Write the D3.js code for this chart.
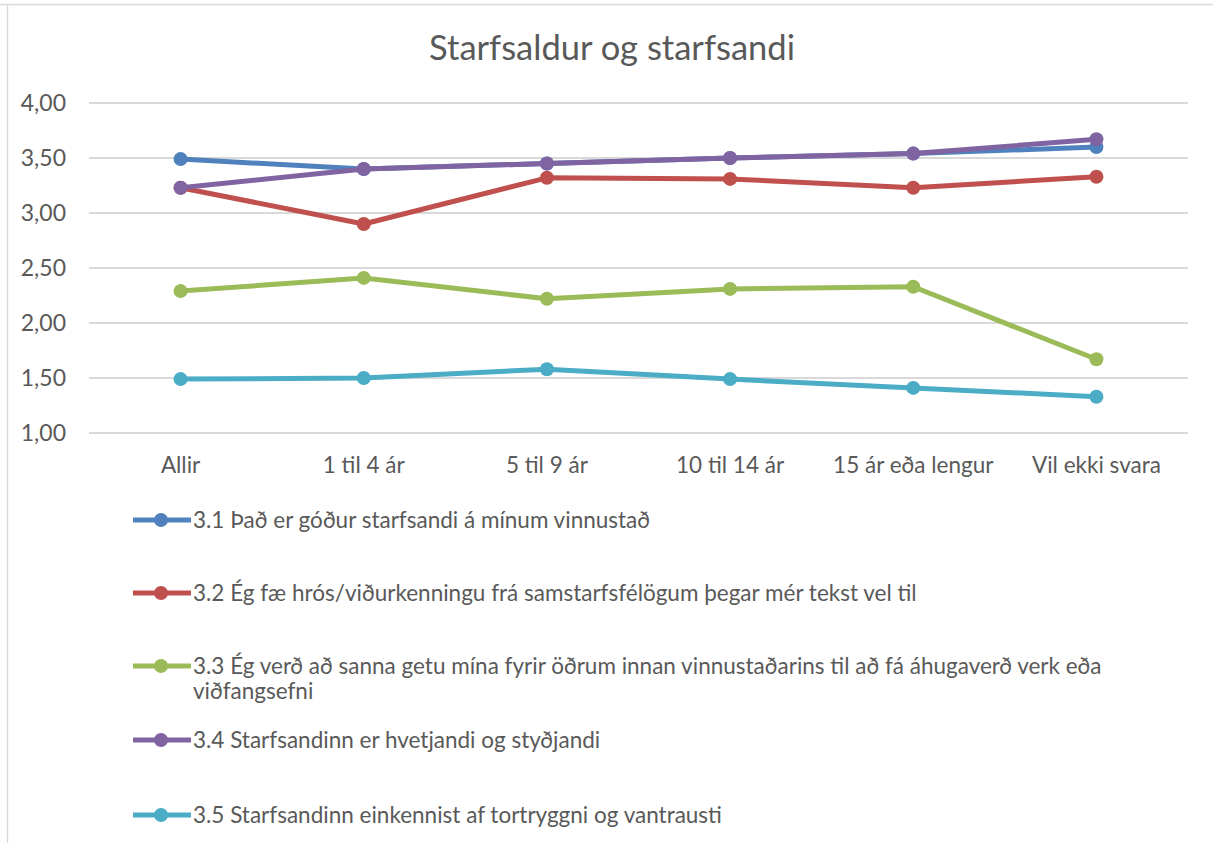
<!DOCTYPE html>
<html>
<head>
<meta charset="utf-8">
<script src="https://cdn.jsdelivr.net/npm/d3@7"></script>
<style>
  body { margin: 0; background: #fff; }
  svg text { font-family: Lato, "Open Sans", sans-serif; fill: #595959; }
</style>
</head>
<body>
<main></main>
<script>
var categories = ['Allir', '1 til 4 ár', '5 til 9 ár', '10 til 14 ár', '15 ár eða lengur', 'Vil ekki svara']
var seriesNames = [
    '3.1 Það er góður starfsandi á mínum vinnustað',
    '3.2 Ég fæ hrós/viðurkenningu frá samstarfsfélögum þegar mér tekst vel til',
    '3.3 Ég verð að sanna getu mína fyrir öðrum innan vinnustaðarins til að fá áhugaverð verk eða|viðfangsefni',
    '3.4 Starfsandinn er hvetjandi og styðjandi',
    '3.5 Starfsandinn einkennist af tortryggni og vantrausti'
]
var s31 = [3.49, 3.40, 3.45, 3.50, 3.54, 3.60]
var s32 = [3.23, 2.90, 3.32, 3.31, 3.23, 3.33]
var s33 = [2.29, 2.41, 2.22, 2.31, 2.33, 1.67]
var s34 = [3.23, 3.40, 3.45, 3.50, 3.54, 3.67]
var s35 = [1.49, 1.50, 1.58, 1.49, 1.41, 1.33]
var yTicks = [1, 1.5, 2, 2.5, 3, 3.5, 4]
var colors = ['#4F81BD', '#C0504D', '#9BBB59', '#8064A2', '#4BACC6']

var allSeries = [s31, s32, s33, s34, s35]

var width = 1213, height = 843

var svg = d3.select('main').append('svg')
    .attr('width', width)
    .attr('height', height)

// frame edges
svg.append('line').attr('x1', 0).attr('x2', width).attr('y1', 4.5).attr('y2', 4.5)
    .attr('stroke', '#d9d9d9').attr('stroke-width', 1.5)
svg.append('line').attr('x1', 7.5).attr('x2', 7.5).attr('y1', 4).attr('y2', height)
    .attr('stroke', '#d9d9d9').attr('stroke-width', 1.5)

svg.append('text')
    .attr('x', 612).attr('y', 60)
    .attr('text-anchor', 'middle')
    .style('font-size', '34.5px')
    .text('Starfsaldur og starfsandi')

var x = d3.scaleBand().domain(categories).range([89, 1188])
var y = d3.scaleLinear().domain([1, 4]).range([433, 103])

// gridlines
svg.append('g').selectAll('line')
    .data(yTicks)
    .enter()
    .append('line')
    .attr('x1', 89).attr('x2', 1188)
    .attr('y1', d => y(d)).attr('y2', d => y(d))
    .attr('stroke', '#d9d9d9').attr('stroke-width', 1.8)

// y labels
var fmt = d => d.toFixed(2).replace('.', ',')
svg.append('g').selectAll('text')
    .data(yTicks)
    .enter()
    .append('text')
    .attr('x', 66).attr('y', d => y(d) + 8)
    .attr('text-anchor', 'end')
    .style('font-size', '23px')
    .text(fmt)

// x labels
svg.append('g').selectAll('text')
    .data(categories)
    .enter()
    .append('text')
    .attr('x', d => x(d) + x.bandwidth() / 2)
    .attr('y', 473)
    .attr('text-anchor', 'middle')
    .style('font-size', '22.5px')
    .text(d => d)

var line = d3.line()
    .x((d, i) => x(categories[i]) + x.bandwidth() / 2)
    .y(d => y(d))

var g = svg.append('g')
allSeries.forEach((s, k) => {
    g.append('path')
        .datum(s)
        .attr('d', line)
        .attr('fill', 'none')
        .attr('stroke', colors[k])
        .attr('stroke-width', 5)
        .attr('stroke-linejoin', 'round')
    g.selectAll('.pt' + k)
        .data(s)
        .enter()
        .append('circle')
        .attr('class', 'pt' + k)
        .attr('cx', (d, i) => x(categories[i]) + x.bandwidth() / 2)
        .attr('cy', d => y(d))
        .attr('r', 7)
        .attr('fill', colors[k])
})

// legend
var legendY = [520, 593, 666, 740, 815]
seriesNames.forEach((name, k) => {
    var ly = legendY[k]
    svg.append('line')
        .attr('x1', 133).attr('x2', 191)
        .attr('y1', ly).attr('y2', ly)
        .attr('stroke', colors[k]).attr('stroke-width', 5)
    svg.append('circle')
        .attr('cx', 161).attr('cy', ly).attr('r', 7)
        .attr('fill', colors[k])
    var parts = name.split('|')
    parts.forEach((p, j) => {
        svg.append('text')
            .attr('x', 193).attr('y', ly + 8 + j * 25)
            .style('font-size', '22.5px')
            .text(p)
    })
})
</script>
</body>
</html>
